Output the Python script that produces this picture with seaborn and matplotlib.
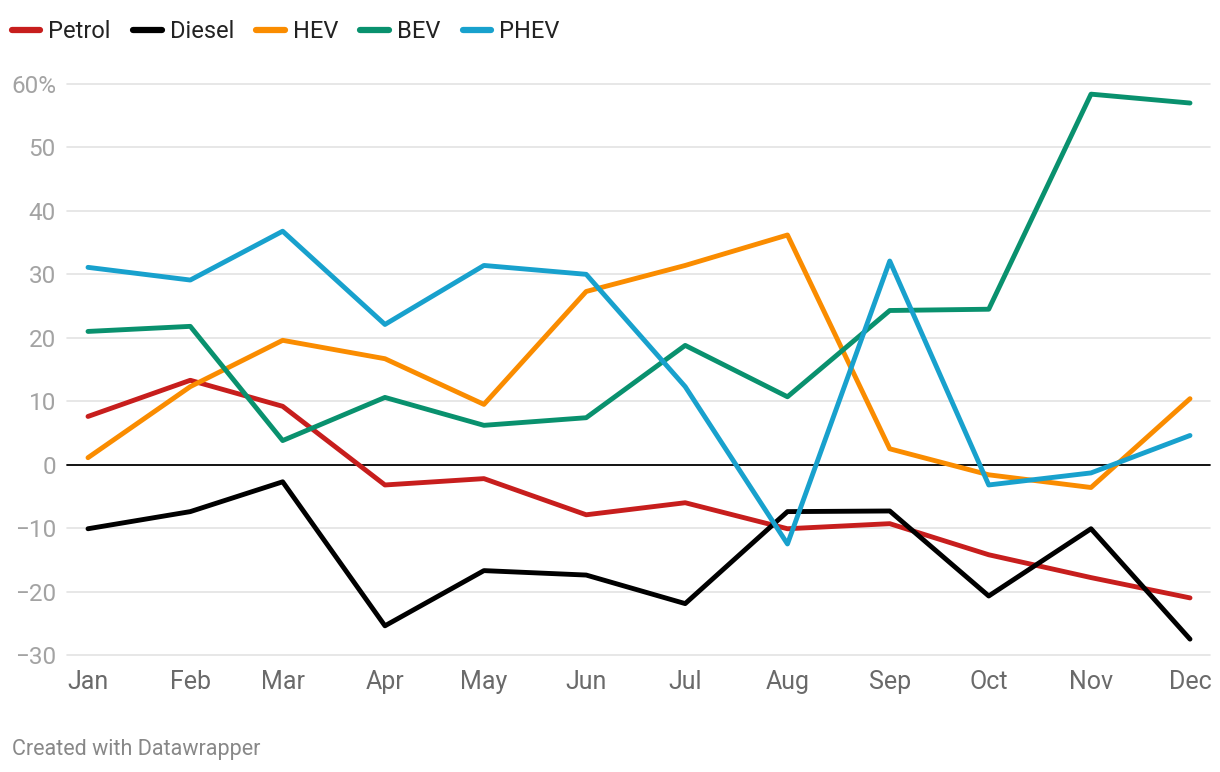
import pandas as pd
import matplotlib.pyplot as plt
import seaborn as sns

months = ['Jan', 'Feb', 'Mar', 'Apr', 'May', 'Jun', 'Jul', 'Aug', 'Sep', 'Oct', 'Nov', 'Dec']
petrol = [7.6, 13.3, 9.2, -3.2, -2.2, -7.9, -6.0, -10.1, -9.3, -14.2, -17.8, -21.0]
diesel = [-10.1, -7.4, -2.7, -25.4, -16.7, -17.4, -21.9, -7.4, -7.3, -20.7, -10.1, -27.5]
hev = [1.1, 12.3, 19.6, 16.7, 9.5, 27.3, 31.4, 36.2, 2.5, -1.6, -3.6, 10.4]
bev = [21.0, 21.8, 3.8, 10.6, 6.2, 7.4, 18.8, 10.7, 24.3, 24.5, 58.4, 57.0]
phev = [31.1, 29.1, 36.8, 22.1, 31.4, 30.0, 12.3, -12.5, 32.1, -3.2, -1.3, 4.6]

series = {'Petrol': petrol, 'Diesel': diesel, 'HEV': hev, 'BEV': bev, 'PHEV': phev}
colors = {'Petrol': '#c71e1d', 'Diesel': '#000000', 'HEV': '#fa8c00',
          'BEV': '#09916e', 'PHEV': '#18a1cd'}

# the x axis is a date axis: months sit at the first day of each month
dates = pd.to_datetime(['2023-' + m + '-01' for m in months], format='%Y-%b-%d')
days = [(d - dates[0]).days for d in dates]

rows = []
for name, vals in series.items():
    for d, v in zip(days, vals):
        rows.append({'day': d, 'fuel': name, 'value': v})
df = pd.DataFrame(rows)

sns.set_style('white')
plt.rcParams['font.family'] = ['Roboto', 'DejaVu Sans']

fig = plt.figure(figsize=(12.2, 7.72), dpi=100)
ax = fig.add_axes([67 / 1220, 117 / 772, 1143 / 1220, 571 / 772])

# gridlines
for y in range(-30, 61, 10):
    if y == 0:
        continue
    ax.axhline(y, color='#e3e3e3', lw=1.2, zorder=0)
ax.axhline(0, color='#000000', lw=1.3, zorder=1)

sns.lineplot(data=df, x='day', y='value', hue='fuel', palette=colors,
             linewidth=3.5, ax=ax, legend=False, zorder=3)
for line in ax.lines:
    line.set_solid_capstyle('round')
    line.set_solid_joinstyle('round')
    line.set_clip_on(False)

span = days[-1]
ax.set_xlim(-span * 21 / 1102, span * (1 + 20 / 1102))
ax.set_ylim(-30, 60)
ax.set_xticks(days)
ax.set_xticklabels(months)
ax.set_yticks(range(-30, 61, 10))
ax.set_yticklabels(['\u221230', '\u221220', '\u221210', '0', '10', '20', '30', '40', '50', '60%'])
ax.tick_params(axis='y', length=0, pad=8, labelsize=17.5, labelcolor='#a3a3a3')
ax.tick_params(axis='x', length=0, pad=11, labelsize=18, labelcolor='#6a6a6a')
for s in ax.spines.values():
    s.set_visible(False)
ax.set_xlabel('')
ax.set_ylabel('')
ax.set_facecolor('none')

# legend
handles = [plt.Line2D([0], [0], color=colors[k], lw=4.5, solid_capstyle='round') for k in series]
fig.legend(handles, list(series.keys()), loc='center left', bbox_to_anchor=(12 / 1220, 1 - 32 / 772),
           ncol=5, frameon=False, fontsize=17, handlelength=1.2, handletextpad=0.34,
           columnspacing=0.95, borderpad=0, borderaxespad=0, labelcolor='#222222')

fig.text(12 / 1220, 1 - 749 / 772, 'Created with Datawrapper', fontsize=15.5, color='#888888',
         va='center', ha='left')

fig.savefig('out.png', dpi=100)
